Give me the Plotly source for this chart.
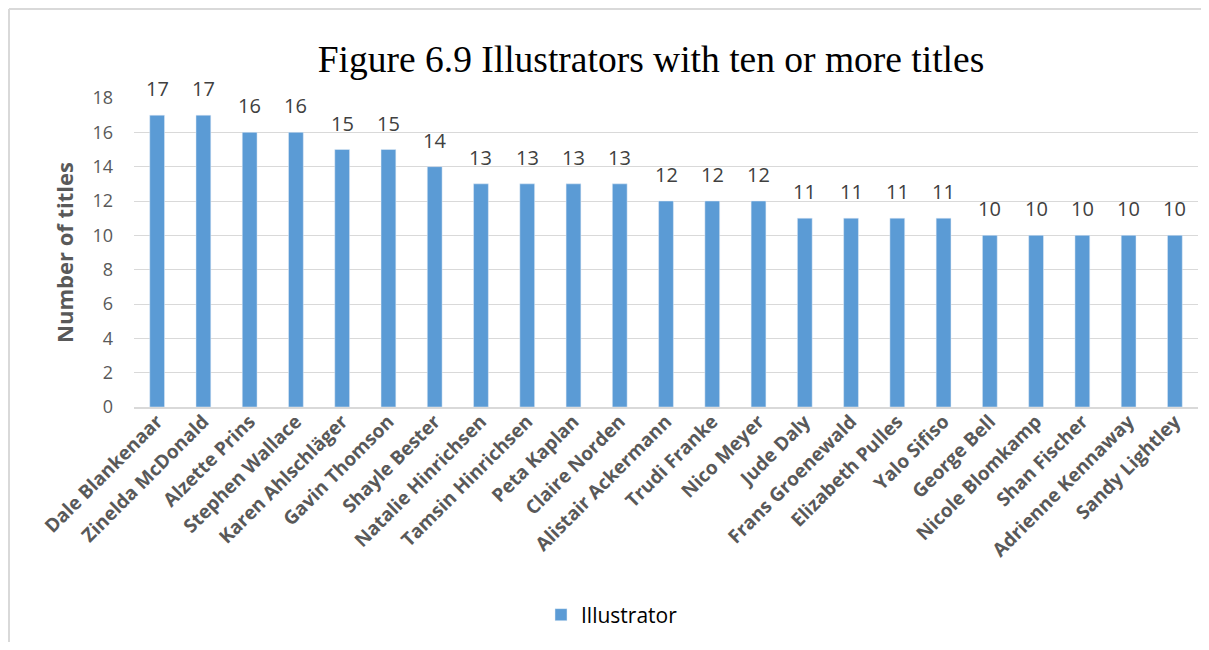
import plotly.graph_objects as go

illustrators = [
    "Dale Blankenaar", "Zinelda McDonald", "Alzette Prins", "Stephen Wallace",
    "Karen Ahlschläger", "Gavin Thomson", "Shayle Bester", "Natalie Hinrichsen",
    "Tamsin Hinrichsen", "Peta Kaplan", "Claire Norden", "Alistair Ackermann",
    "Trudi Franke", "Nico Meyer", "Jude Daly", "Frans Groenewald",
    "Elizabeth Pulles", "Yalo Sifiso", "George Bell", "Nicole Blomkamp",
    "Shan Fischer", "Adrienne Kennaway", "Sandy Lightley",
]
titles = [17, 17, 16, 16, 15, 15, 14, 13, 13, 13, 13, 12, 12, 12,
          11, 11, 11, 11, 10, 10, 10, 10, 10]
y_ticks = list(range(0, 19, 2))

GREY = "#595959"
BLUE = "#5b9bd5"

# the page body has an 8px margin all round, so the figure is made
# 16px smaller than the window to keep scrollbars away
W, H = 1193, 634
L, T, R, B = 126, 90, 3, 235

fig = go.Figure()
fig.add_trace(go.Bar(x=illustrators, y=titles, name="Illustrator", marker_color=BLUE))

# value labels sit a bit higher above the bars than plotly's own outside text
for name, val in zip(illustrators, titles):
    fig.add_annotation(x=name, y=val, text=str(val), showarrow=False,
                       yanchor="bottom", yshift=11,
                       font=dict(family="Open Sans", size=20, color="#404040"))

# chart frame: only its left and top edges fall inside the picture
fx0 = -(L - 1) / 1064
fy1 = 1 + (T - 1) / 309
frame = dict(color="#d9d9d9", width=2)

fig.update_layout(
    width=W, height=H,
    paper_bgcolor="white", plot_bgcolor="white",
    margin=dict(l=L, r=R, t=T, b=B),
    bargap=0.68,
    title=dict(text="Figure 6.9 Illustrators with ten or more titles",
               x=643 / W, xanchor="center", y=1 - 51 / H, yanchor="middle",
               font=dict(family="Liberation Serif", size=37.5, color="black")),
    showlegend=True,
    legend=dict(orientation="h", x=(604 - L) / 1064, xanchor="center",
                y=-(607 - T - 309) / 309, yanchor="middle", itemwidth=30,
                font=dict(family="Open Sans", size=21, color="black")),
    shapes=[
        dict(type="line", xref="paper", yref="paper", x0=fx0, x1=fx0,
             y0=-B / 309, y1=fy1, line=frame, layer="below"),
        dict(type="line", xref="paper", yref="paper", x0=fx0, x1=(W - L) / 1064,
             y0=fy1, y1=fy1, line=frame, layer="below"),
    ],
)

fig.update_yaxes(
    range=[0, 18], tickvals=y_ticks, showgrid=True, gridcolor="#d9d9d9",
    zeroline=False, ticklabelstandoff=20,
    tickfont=dict(family="Open Sans", size=18, color=GREY),
    title=dict(text="<b>Number of titles</b>", standoff=12,
               font=dict(family="Open Sans", size=22, color=GREY)),
)
fig.update_xaxes(
    tickangle=-45, showline=True, linecolor="#d9d9d9", linewidth=2,
    ticklabelstandoff=-6,
    tickfont=dict(family="Open Sans", size=19, color=GREY, weight="bold"),
)

fig.write_html("out.html")
